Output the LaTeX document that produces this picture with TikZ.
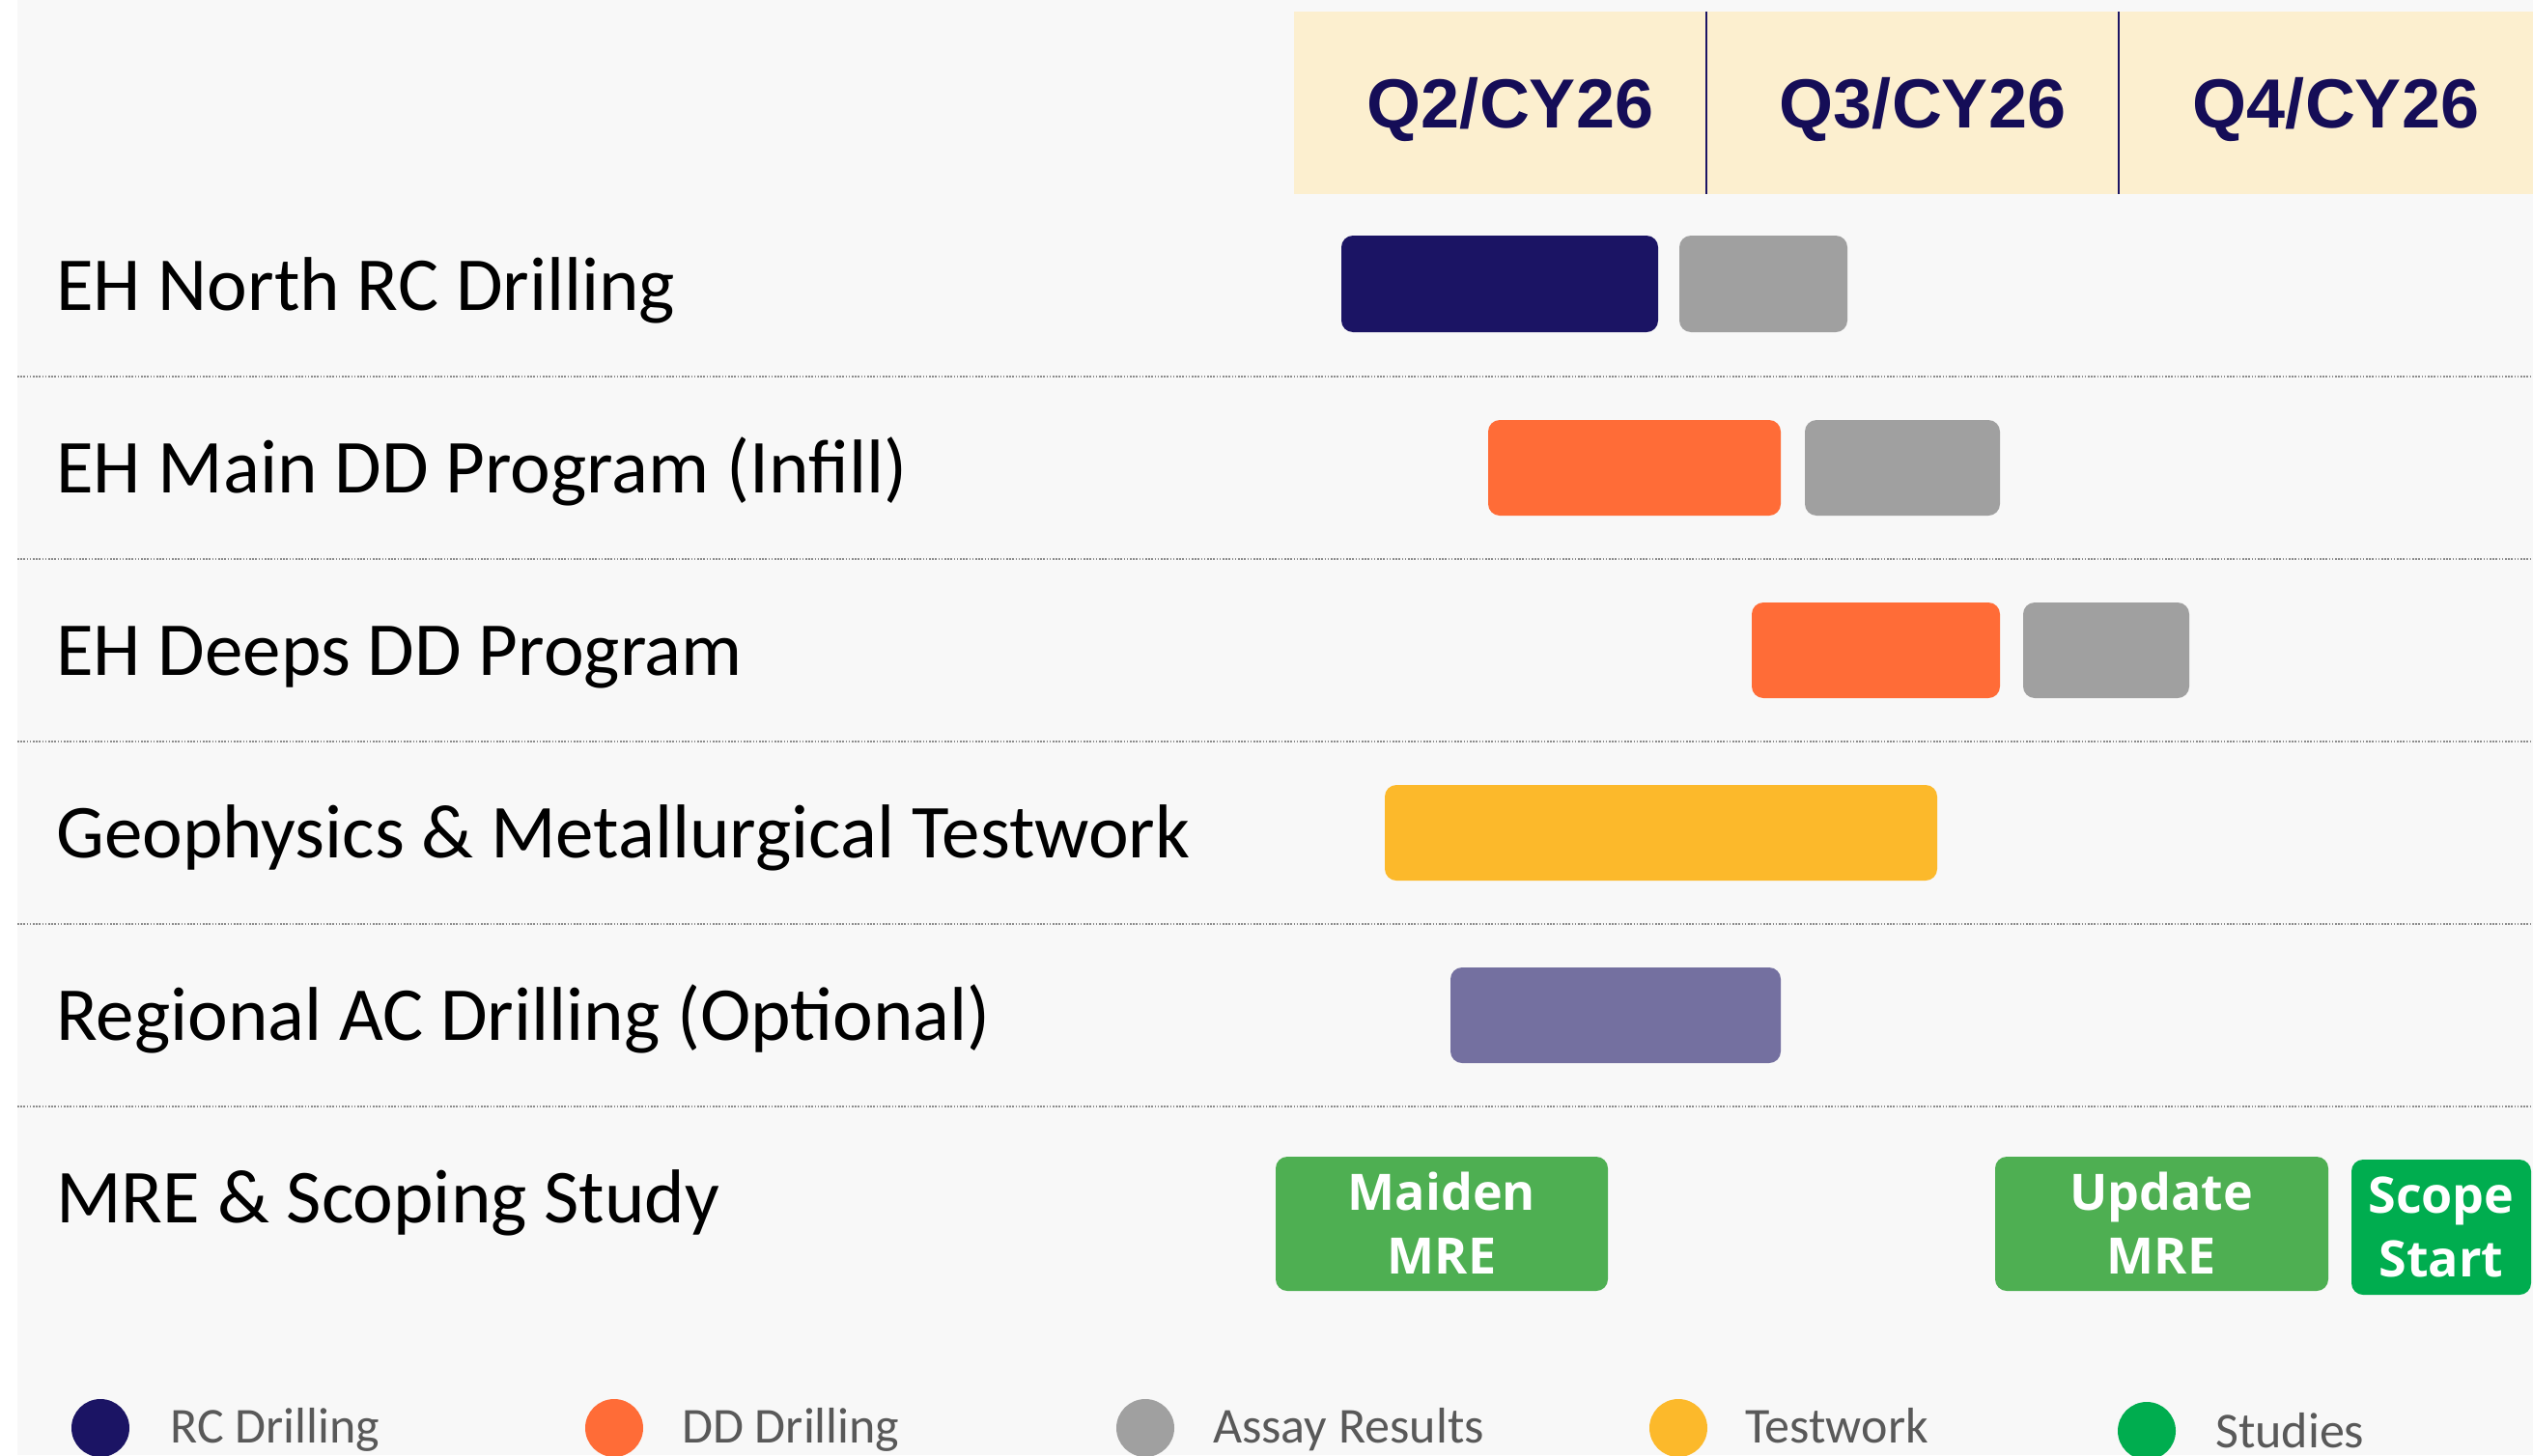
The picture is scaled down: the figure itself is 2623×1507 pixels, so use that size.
\documentclass[tikz,border=0pt]{standalone}
\usepackage{fontspec}
\setmainfont{Carlito}
\newfontfamily\qfont{Liberation Sans}
\newfontfamily\boxfont{Open Sans}
\definecolor{bgc}{HTML}{F8F8F8}
\definecolor{hdr}{HTML}{FCEFCF}
\definecolor{navy}{HTML}{1B1464}
\definecolor{qtxt}{HTML}{150D57}
\definecolor{assay}{HTML}{A0A0A0}
\definecolor{ddor}{HTML}{FF6C37}
\definecolor{testy}{HTML}{FCB92B}
\definecolor{acpur}{HTML}{7470A0}
\definecolor{mreg}{HTML}{4EAF52}
\definecolor{scg}{HTML}{00AD4F}
\definecolor{legtxt}{HTML}{595959}
\definecolor{sepc}{HTML}{8C8C8C}
\tikzset{
  bar/.style={rounded corners=12pt},
  rowlbl/.style={anchor=base west, inner sep=0pt, font=\fontsize{79}{94}\selectfont, text=black},
  qlbl/.style={anchor=base, inner sep=0pt, font=\qfont\bfseries\fontsize{72}{84}\selectfont, text=qtxt},
  boxlbl/.style={inner sep=0pt, align=center, text=white, font=\boxfont\bfseries\fontsize{52}{66}\selectfont},
  leglbl/.style={anchor=base west, inner sep=0pt, text=legtxt, font=\fontsize{52}{62}\selectfont},
  sepline/.style={sepc, line width=2pt, dash pattern=on 1.6pt off 1.6pt},
  divline/.style={navy, line width=2.5pt}
}
\begin{document}
\begin{tikzpicture}[x=1pt,y=-1pt]
\useasboundingbox (0,0) rectangle (2623,1507);
\fill[white] (0,0) rectangle (2623,1507);
\fill[bgc] (18,0) rectangle (2623,1507);
% header
\fill[hdr] (1340,12) rectangle (2623,201);
\coordinate (d1t) at (1767,12); \coordinate (d1b) at (1767,201);
\coordinate (d2t) at (2194,12); \coordinate (d2b) at (2194,201);
\draw[divline] (d1t) -- (d1b);
\draw[divline] (d2t) -- (d2b);
\node[qlbl] (q2) at (1564,132) {Q2/CY26};
\node[qlbl] (q3) at (1991,132) {Q3/CY26};
\node[qlbl] (q4) at (2419,132) {Q4/CY26};
% separators
\foreach \yy/\nm in {390/s1,579/s2,768/s3,957/s4,1146/s5}{
  \coordinate (\nm a) at (18,\yy); \coordinate (\nm b) at (2623,\yy);
  \draw[sepline] (\nm a) -- (\nm b);
}
% row labels
\node[rowlbl] (r1) at (58,321) {EH North RC Drilling};
\node[rowlbl] (r2) at (58,510) {EH Main DD Program (Infill)};
\node[rowlbl] (r3) at (58,699) {EH Deeps DD Program};
\node[rowlbl] (r4) at (58,888) {Geophysics \& Metallurgical Testwork};
\node[rowlbl] (r5) at (58,1077) {Regional AC Drilling (Optional)};
\node[rowlbl] (r6) at (58,1266) {MRE \& Scoping Study};
% bars
\fill[bar, navy] (1389,244) rectangle (1717,344);
\fill[bar, assay] (1739,244) rectangle (1913,344);
\fill[bar, ddor] (1541,435) rectangle (1844,534);
\fill[bar, assay] (1869,435) rectangle (2071,534);
\fill[bar, ddor] (1814,624) rectangle (2071,723);
\fill[bar, assay] (2095,624) rectangle (2267,723);
\fill[bar, testy] (1434,813) rectangle (2006,912);
\fill[bar, acpur] (1502,1002) rectangle (1844,1101);
\fill[bar, mreg] (1321,1198) rectangle (1665,1337);
\fill[bar, mreg] (2066,1198) rectangle (2411,1337);
\fill[bar, scg] (2435,1201) rectangle (2621,1341);
\node[boxlbl] (m1) at (1493,1267) {Maiden\\MRE};
\node[boxlbl] (m2) at (2238,1267) {Update\\MRE};
\node[boxlbl] (m3) at (2528,1271) {Scope\\Start};
% legend
\fill[navy] (104,1479) circle[radius=30pt];
\fill[ddor] (636,1479) circle[radius=30pt];
\fill[assay] (1186,1479) circle[radius=30pt];
\fill[testy] (1738,1479) circle[radius=30pt];
\fill[scg] (2223,1482) circle[radius=30pt];
\node[leglbl] (l1) at (176,1494) {RC Drilling};
\node[leglbl] (l2) at (706,1494) {DD Drilling};
\node[leglbl] (l3) at (1256,1494) {Assay Results};
\node[leglbl] (l4) at (1807,1494) {Testwork};
\node[leglbl] (l5) at (2294,1499) {Studies};
\end{tikzpicture}
\end{document}
